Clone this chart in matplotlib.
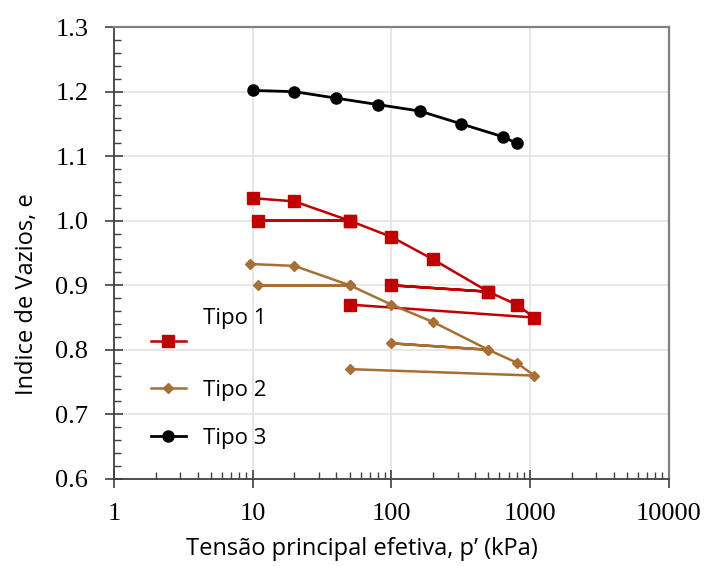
import matplotlib

matplotlib.use("Agg")

import matplotlib.pyplot as plt
from matplotlib.ticker import FixedLocator, FormatStrFormatter, MultipleLocator, NullFormatter
from matplotlib.transforms import ScaledTranslation

# Tipo 1: load, unload/reload loops
P_TIPO1 = [10, 20, 50, 11, 50, 100, 200, 500, 100, 500, 800, 1070, 50]
E_TIPO1 = [1.035, 1.03, 1.0, 1.0, 1.0, 0.975, 0.94, 0.89, 0.90, 0.89, 0.87, 0.85, 0.87]

# Tipo 2
P_TIPO2 = [9.5, 20, 50, 11, 50, 100, 200, 500, 100, 500, 800, 1070, 50]
E_TIPO2 = [0.933, 0.93, 0.90, 0.90, 0.90, 0.87, 0.843, 0.80, 0.81, 0.80, 0.78, 0.76, 0.77]

# Tipo 3
P_TIPO3 = [10, 20, 40, 80, 160, 320, 640, 800]
E_TIPO3 = [1.202, 1.20, 1.19, 1.18, 1.17, 1.15, 1.13, 1.12]

X_TICKS = [1, 10, 100, 1000, 10000]
X_TICK_LABELS = ["1", "10", "100", "1000", "10000"]

RED = "#C00000"
BROWN = "#A86F35"

fig = plt.figure(figsize=(7.04, 5.66), dpi=100)
ax = fig.add_axes([0.162, 0.154, 0.788, 0.798])

ax.plot(P_TIPO1, E_TIPO1, color=RED, marker="s", markersize=8.5, linewidth=1.8, label="Tipo 1")
ax.plot(P_TIPO2, E_TIPO2, color=BROWN, marker="D", markersize=5.5, linewidth=1.8, label="Tipo 2")
ax.plot(P_TIPO3, E_TIPO3, color="black", marker="o", markersize=8, linewidth=2.0, label="Tipo 3")

ax.set_xscale("log")
ax.set_xlim(1, 10000)
ax.set_ylim(0.6, 1.3)
ax.xaxis.set_major_locator(FixedLocator(X_TICKS))
ax.set_xticks(X_TICKS, X_TICK_LABELS)
ax.xaxis.set_minor_formatter(NullFormatter())
ax.yaxis.set_major_locator(MultipleLocator(0.1))
ax.yaxis.set_minor_locator(MultipleLocator(0.02))
ax.yaxis.set_major_formatter(FormatStrFormatter("%.1f"))

ax.grid(True, which="major", color="#E3E3E3", linewidth=1.2)
ax.set_axisbelow(True)

for side in ["left", "bottom"]:
    ax.spines[side].set_color("#404040")
    ax.spines[side].set_linewidth(1.3)
for side in ["top", "right"]:
    ax.spines[side].set_color("#808080")
    ax.spines[side].set_linewidth(1.6)

ax.tick_params(which="major", direction="inout", length=13, width=1.2, color="#404040",
               top=False, right=False, labelsize=19)
ax.tick_params(axis="y", which="major", pad=12)
ax.tick_params(axis="x", which="major", pad=11)
ax.tick_params(which="minor", direction="in", length=5, width=1.0, color="#404040",
               top=False, right=False)
for label in ax.get_xticklabels() + ax.get_yticklabels():
    label.set_fontfamily("Liberation Serif")

ax.set_xlabel("Tensão principal efetiva, p’ (kPa)", fontsize=17, family="Open Sans")
ax.set_ylabel("Indice de Vazios, e", fontsize=17, family="Open Sans")
ax.xaxis.set_label_coords(0.447, -0.128)
ax.yaxis.set_label_coords(-0.135, 0.41)

leg = ax.legend(loc="center left", bbox_to_anchor=(0.03, 0.195), frameon=False,
                prop={"family": "Open Sans", "size": 16}, handlelength=1.6, labelspacing=1.2,
                handletextpad=0.75)
# the first label sits above its marker in the original
first = leg.get_texts()[0]
first.set_transform(first.get_transform() + ScaledTranslation(0, 0.25, fig.dpi_scale_trans))

fig.savefig("out.png", dpi=100)
